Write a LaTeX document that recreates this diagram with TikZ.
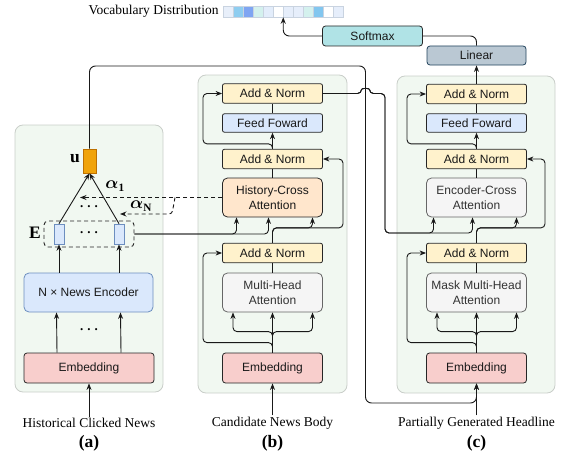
\documentclass[tikz,border=0pt]{standalone}
\usepackage{fontspec}
\setmainfont{Liberation Serif}
\setsansfont{Liberation Sans}
\usepackage{amsmath}
\usepackage{tikz}
\usetikzlibrary{shapes,arrows.meta}

\definecolor{fondvert}{HTML}{F1F8F1}
\definecolor{bordgris}{HTML}{C9CEC9}
\definecolor{jaune}{HTML}{FFF2CC}
\definecolor{bleuclair}{HTML}{DAE8FC}
\definecolor{bleubord}{HTML}{6C8EBF}
\definecolor{rose}{HTML}{F8CECC}
\definecolor{peche}{HTML}{FFE6CC}
\definecolor{grisfond}{HTML}{F5F5F5}
\definecolor{grisbord}{HTML}{666666}
\definecolor{gristexte}{HTML}{333333}
\definecolor{orangeu}{HTML}{F0A30A}
\definecolor{orangebord}{HTML}{BD7000}
\definecolor{turquoise}{HTML}{B0E3E6}
\definecolor{ardoise}{HTML}{BAC8D3}
\definecolor{ardoisebord}{HTML}{23445D}
\definecolor{bordbarre}{HTML}{C9D3E0}

\begin{document}
\begin{tikzpicture}[x=1pt,y=-1pt,line width=0.9pt,>={Stealth[length=6.5pt,width=5pt]}]
	\tikzstyle{panneau}=[draw=bordgris, fill=fondvert, rounded corners=8pt, line width=0.8pt]
	\tikzstyle{bloc}=[rectangle, draw=black!85, text=black!90, line width=0.8pt,
	minimum width=100pt, inner sep=1pt, align=center,
	font={\sffamily\fontsize{12}{14.5}\selectfont}]
	\tikzstyle{norme}=[bloc, fill=jaune, rounded corners=2pt, minimum height=19.5pt]
	\tikzstyle{ffn}=[bloc, fill=bleuclair, rounded corners=2pt, minimum height=18.5pt]
	\tikzstyle{attn}=[bloc, fill=grisfond, draw=grisbord, text=gristexte,
	rounded corners=5pt, minimum height=39pt]
	\tikzstyle{croise}=[bloc, fill=peche, rounded corners=5pt, minimum height=39pt]
	\tikzstyle{embed}=[bloc, fill=rose, rounded corners=3pt, minimum height=30pt]
	\tikzstyle{vecteur}=[rectangle, draw=bleubord, fill=bleuclair, line width=0.7pt,
	minimum width=10pt, minimum height=20pt, inner sep=0pt]
	\tikzstyle{cellule}=[rectangle, draw=bordbarre, line width=0.5pt,
	minimum width=10pt, minimum height=11pt, inner sep=0pt]
	\tikzstyle{legende}=[inner sep=1pt, font={\fontsize{13.5}{16}\selectfont}]
	\tikzstyle{partie}=[inner sep=1pt, font={\bfseries\fontsize{17.5}{20}\selectfont}]
	\tikzstyle{pointsuite}=[inner sep=0pt, font={\bfseries\fontsize{13}{15}\selectfont}]
	\tikzstyle{poids}=[inner sep=0pt, font={\fontsize{16}{18}\selectfont}]

	\useasboundingbox (0,0) rectangle (567,460);

	% panneaux
	\draw[panneau] (15,125) rectangle (163,392);
	\draw[panneau] (198,75) rectangle (347,393);
	\draw[panneau] (397,76) rectangle (555,393);

	% (a) historique
	\node[embed, minimum width=130pt] (emba) at (89,368) {Embedding};
	\node[bloc, fill=bleuclair, draw=bleubord, rounded corners=5pt,
	minimum width=129pt, minimum height=39pt] (enc) at (88.5,292.5) {N × News Encoder};
	\node[vecteur] (e1) at (59,234) {};
	\node[vecteur] (e2) at (119,234) {};
	\node[rectangle, draw=black!85, dash pattern=on 4pt off 3pt, rounded corners=4pt,
	minimum width=90pt, minimum height=26pt, inner sep=0pt] (ebox) at (89,234) {};
	\node[rectangle, draw=orangebord, fill=orangeu, line width=0.7pt,
	minimum width=13pt, minimum height=24pt, inner sep=0pt] (u) at (89.5,161) {};
	\node[partie] (elab) at (35,233) {E};
	\node[partie] (ulab) at (75,159) {u};
	\node[pointsuite] (p1) at (89,233) {.\hspace{4pt}.\hspace{4pt}.};
	\node[pointsuite] (p2) at (89,207) {.\hspace{4pt}.\hspace{4pt}.};
	\node[pointsuite] (p3) at (89,330) {.\hspace{4pt}.\hspace{4pt}.};
	\node[poids] (al1) at (115,186) {$\boldsymbol{\alpha}_{\mathbf{1}}$};
	\node[poids] (alN) at (141,206) {$\boldsymbol{\alpha}_{\mathbf{N}}$};
	\node[legende] (hcn) at (89,423) {Historical Clicked News};
	\node[partie] (pa) at (89,443) {(a)};

	% (b) encodeur du corps
	\node[norme] (anb3) at (272.5,93.5) {Add \& Norm};
	\node[ffn] (ffb) at (272.5,123) {Feed Foward};
	\node[norme] (anb2) at (272.5,159) {Add \& Norm};
	\node[croise] (hca) at (272.5,197.5) {History-Cross\\Attention};
	\node[norme] (anb1) at (272.5,253) {Add \& Norm};
	\node[attn] (mha) at (272.5,292.5) {Multi-Head\\Attention};
	\node[embed] (embb) at (272.5,368) {Embedding};
	\node[legende] (cnb) at (272.5,423) {Candidate News Body};
	\node[partie] (pb) at (272.5,443) {(b)};

	% (c) decodeur du titre
	\node[norme] (anc3) at (476.5,94) {Add \& Norm};
	\node[ffn] (ffc) at (476.5,123) {Feed Foward};
	\node[norme] (anc2) at (476.5,159) {Add \& Norm};
	\node[attn] (eca) at (476.5,197.5) {Encoder-Cross\\Attention};
	\node[norme] (anc1) at (476.5,253) {Add \& Norm};
	\node[attn] (mmha) at (476.5,292.5) {Mask Multi-Head\\Attention};
	\node[embed] (embc) at (476.5,368) {Embedding};
	\node[legende] (pgh) at (476.5,423) {Partially Generated Headline};
	\node[partie] (pc) at (476.5,443) {(c)};
	\node[bloc, fill=ardoise, draw=ardoisebord, rounded corners=3pt,
	minimum width=99pt, minimum height=19pt] (lin) at (476.5,55.5) {Linear};
	\node[bloc, fill=turquoise, rounded corners=3pt, minimum height=20pt] (soft) at (372.5,36) {Softmax};

	% distribution
	\foreach \c [count=\i] in {E8EFFA,8ECDF0,7FA5F2,D4F1EE,E3EDFB,FFFFFF,E6EEFB,E6EEFB,D4F1EE,82C6EF,FFFFFF,E6EEFB}{
		\definecolor{cell}{HTML}{\c}
		\node[cellule, fill=cell] (v\i) at (218+10*\i,11.5) {};
	}
	\node[legende, anchor=east] (voc) at (220,11.5) {Vocabulary Distribution};

	\tikzstyle{flux}=[->, draw=black!90, rounded corners=4pt]
	\tikzstyle{trait}=[draw=black!90, rounded corners=4pt]
	\tikzstyle{pointille}=[dash pattern=on 4pt off 3pt]

	% liens (a)
	\draw[flux] (hcn.north) -- (emba.south);
	\draw[flux] ([xshift=-32pt]emba.north) -- ([xshift=-32pt]enc.south);
	\draw[flux] ([xshift=32pt]emba.north) -- ([xshift=32pt]enc.south);
	\draw[flux] (enc.north -| e1) -- (e1.south);
	\draw[flux] (enc.north -| e2) -- (e2.south);
	\draw[flux] (e1.north) -- (u.south);
	\draw[flux] (e2.north) -- (u.south);

	\coordinate (alpha1) at (80,197.5);
	\coordinate (alphaN) at (120,214);
	\coordinate (coude) at (175,197.5);
	\draw[flux, pointille] (hca.west) -- (alpha1);
	\draw[flux, pointille, rounded corners=3pt] (coude) -- (172,214) -- (alphaN);

	\draw[flux] (ebox.east) -| ([xshift=-36pt]hca.south);
	\draw[flux] (ebox.east) -| ([xshift=-4pt]hca.south);

	% liens (b)
	\draw[flux] (cnb.north) -- (embb.south);
	\draw[flux] (embb.north) -- (mha.south);
	\draw[flux] (embb.north) -- ++(0,-21) -| ([xshift=-39.5pt]mha.south);
	\draw[flux] (embb.north) -- ++(0,-21) -| ([xshift=40pt]mha.south);
	\draw[flux] (embb.north) -- ++(0,-10) -- ++(-69.5,0) |- (anb1.west);
	\draw[trait] (mha.north) -- (anb1.south);
	\draw[flux] (anb1.north) -- ++(0,-15) -| ([xshift=40pt]hca.south);
	\draw[flux] (anb1.north) -- ++(0,-15) -- ++(70.5,0) |- (anb2.east);
	\draw[trait] (hca.north) -- (anb2.south);
	\draw[flux] (anb2.north) -- (ffb.south);
	\draw[flux] (anb2.north) -- ++(0,-5) -- ++(-69.5,0) |- (anb3.west);
	\draw[trait] (ffb.north) -- (anb3.south);

	% liens (c)
	\draw[flux] (pgh.north) -- (embc.south);
	\draw[flux] (embc.north) -- (mmha.south);
	\draw[flux] (embc.north) -- ++(0,-21) -| ([xshift=-39.5pt]mmha.south);
	\draw[flux] (embc.north) -- ++(0,-21) -| ([xshift=40pt]mmha.south);
	\draw[flux] (embc.north) -- ++(0,-10) -- ++(-69.5,0) |- (anc1.west);
	\draw[trait] (mmha.north) -- (anc1.south);
	\draw[flux] (anc1.north) -- ++(0,-15) -| ([xshift=40pt]eca.south);
	\draw[flux] (anc1.north) -- ++(0,-15) -- ++(68.5,0) |- (anc2.east);
	\draw[trait] (eca.north) -- (anc2.south);
	\draw[flux] (anc2.north) -- (ffc.south);
	\draw[flux] (anc2.north) -- ++(0,-5) -- ++(-69.5,0) |- (anc3.west);
	\draw[trait] (ffc.north) -- (anc3.south);
	\draw[flux] (anc3.north) -- (lin.south);
	\draw[trait, rounded corners=6pt] (lin.north) |- (soft.east);
	\draw[flux, rounded corners=6pt] (soft.west) -| (v6.south east);

	% sortie de (b) vers (c), avec saut
	\draw[flux] (anb3.east) -- (361.5,93.5) .. controls (361.5,88) and (369.5,88) .. (369.5,93.5)
	-- (385,93.5) -- (385,233) -| ([xshift=-43pt]eca.south);
	\draw[flux] (anb3.east) -- (361.5,93.5) .. controls (361.5,88) and (369.5,88) .. (369.5,93.5)
	-- (385,93.5) -- (385,233) -| ([xshift=-4pt]eca.south);

	% u vers le decodeur
	\draw[flux, rounded corners=6pt] (u.north) |- (365.5,66) -- (365.5,403) -| (embc.south);
\end{tikzpicture}
\end{document}
